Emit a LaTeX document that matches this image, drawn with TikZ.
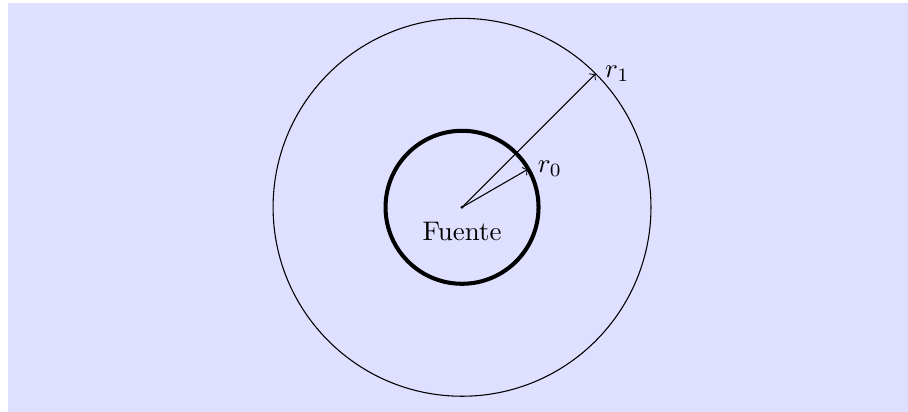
\documentclass[tikz,border=0pt]{standalone}
\usetikzlibrary{calc}
\definecolor{bgcol}{RGB}{223,223,255}
\tikzset{
  radius arrow/.style={->, line width=0.4pt},
  inner circle/.style={line width=1.5pt},
  outer circle/.style={line width=0.4pt},
  rlabel/.style={right}
}
\begin{document}
\begin{tikzpicture}
  \useasboundingbox (-6.04,-2.67) rectangle (5.83,2.71);
  \fill[bgcol] (-5.93,-2.67) rectangle (5.83,2.67);
  \coordinate (O) at (0,0);
  \draw[outer circle] (O) circle (2.47);
  \draw[inner circle] (O) circle (1);
  \fill (O) circle (0.6pt);
  \coordinate (A1) at (45:2.47);
  \coordinate (A0) at (30:1);
  \draw[radius arrow] (O) -- (A1);
  \draw[radius arrow] (O) -- (A0);
  \node[rlabel] (l1) at (A1) {$r_1$};
  \node[rlabel] (l0) at (A0) {$r_0$};
  \node[below=1.9pt] (f) at (O) {Fuente};
\end{tikzpicture}
\end{document}
